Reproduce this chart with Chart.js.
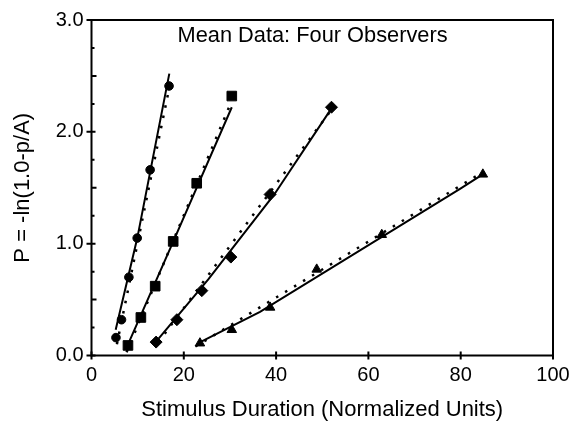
<!DOCTYPE html>
<html>
<head>
<meta charset="utf-8">
<script src="https://cdn.jsdelivr.net/npm/chart.js@4.4.1/dist/chart.umd.min.js"></script>
<style>
  body { margin: 0; background: #fff; }
  #wrap { width: 578px; height: 425px; }
</style>
</head>
<body>
<div id="wrap"><canvas id="chart"></canvas></div>
<script>
// observed points, one pair of arrays per observer group
const circleX = [5.3, 6.5, 8.1, 9.9, 12.7, 16.8];
const circleY = [0.16, 0.32, 0.70, 1.05, 1.66, 2.41];
const squareX = [7.9, 10.7, 13.8, 17.7, 22.8, 30.4];
const squareY = [0.09, 0.34, 0.62, 1.02, 1.54, 2.32];
const diamondX = [14.0, 18.5, 23.9, 30.2, 38.7, 52.0];
const diamondY = [0.12, 0.32, 0.58, 0.88, 1.44, 2.22];
const triangleX = [23.5, 30.4, 38.7, 48.8, 62.9, 84.8];
const triangleY = [0.11, 0.23, 0.43, 0.77, 1.08, 1.62];

// solid fitted curves
const solidX = [
  [5.24, 9.92, 16.86],
  [7.6, 17.73, 30.4],
  [13.9, 25.3, 39.6, 52.0],
  [23.14, 36.51, 79.85, 84.77]
];
const solidY = [
  [0.23, 1.05, 2.52],
  [0.07, 1.02, 2.22],
  [0.12, 0.68, 1.44, 2.21],
  [0.11, 0.39, 1.49, 1.62]
];
// dotted straight fits (end points)
const dottedX = [[5.5, 16.93], [7.6, 29.9], [14.5, 52.4], [22.5, 85.0]];
const dottedY = [[0.10, 2.41], [0.03, 2.23], [0.12, 2.22], [0.08, 1.645]];

const xTicks = [0, 20, 40, 60, 80, 100];
const yTicks = [0, 1, 2, 3];

const plotTitle = 'Mean Data: Four Observers';
const xTitle = 'Stimulus Duration (Normalized Units)';
const yTitle = 'P = -ln(1.0-p/A)';

Chart.defaults.font.family = '"Liberation Sans", Arial, sans-serif';
Chart.defaults.color = '#000';

function pts(xs, ys) {
  return xs.map((x, i) => ({ x: x, y: ys[i] }));
}

function markers(xs, ys, style, r) {
  return {
    data: pts(xs, ys),
    showLine: false,
    pointStyle: style,
    pointRadius: r,
    pointBackgroundColor: '#000',
    pointBorderColor: '#000',
    pointBorderWidth: 1
  };
}

function fit(xs, ys, dash) {
  return {
    data: pts(xs, ys),
    showLine: true,
    borderColor: '#000',
    borderWidth: dash ? 2.5 : 2,
    borderDash: dash || [],
    tension: 0,
    pointRadius: 0
  };
}

const datasets = [
  markers(circleX, circleY, 'circle', 4.3),
  markers(squareX, squareY, 'rect', 6.8),
  markers(diamondX, diamondY, 'rectRot', 6),
  markers(triangleX, triangleY, 'triangle', 5.5)
];
for (let i = 0; i < 4; i++) {
  datasets.push(fit(solidX[i], solidY[i]));
  datasets.push(fit(dottedX[i], dottedY[i], [2.5, 8]));
}

const frame = {
  id: 'frame',
  afterDraw(chart) {
    const { ctx, chartArea: a, scales } = chart;
    const x = scales.x, y = scales.y;
    ctx.save();
    ctx.strokeStyle = '#000';
    ctx.lineWidth = 2;
    ctx.strokeRect(a.left, a.top, a.right - a.left, a.bottom - a.top);
    ctx.beginPath();
    xTicks.forEach(v => {
      const px = x.getPixelForValue(v);
      ctx.moveTo(px, a.bottom - 4);
      ctx.lineTo(px, a.bottom + 4);
    });
    for (let i = 0; i <= 12; i++) {
      const v = i * 0.25;
      const py = y.getPixelForValue(v);
      if (i % 4 === 0) {
        ctx.moveTo(a.left - 5, py);
        ctx.lineTo(a.left + 4, py);
      } else {
        ctx.moveTo(a.left, py);
        ctx.lineTo(a.left + (i % 2 === 0 ? 5 : 3), py);
      }
    }
    ctx.stroke();
    ctx.fillStyle = '#000';
    ctx.font = '21.8px "Liberation Sans", Arial, sans-serif';
    ctx.textAlign = 'center';
    ctx.textBaseline = 'alphabetic';
    ctx.fillText(plotTitle, a.left + (a.right - a.left) * 0.479, a.top + 22);
    ctx.restore();
  }
};

new Chart(document.getElementById('chart'), {
  type: 'scatter',
  data: { datasets: datasets },
  options: {
    responsive: true,
    maintainAspectRatio: false,
    animation: false,
    layout: { padding: { top: 17, right: 25, left: 0, bottom: 0 } },
    plugins: {
      legend: { display: false },
      tooltip: { enabled: false }
    },
    scales: {
      x: {
        type: 'linear',
        min: 0,
        max: 100,
        afterBuildTicks: s => { s.ticks = xTicks.map(v => ({ value: v })); },
        afterFit: s => { s.height = 69.5; },
        grid: { display: false, drawTicks: false },
        border: { display: false },
        ticks: { font: { size: 20 }, padding: 8, maxRotation: 0 },
        title: { display: true, text: xTitle, font: { size: 22 }, padding: { top: 0, bottom: 2 } }
      },
      y: {
        min: 0,
        max: 3,
        afterBuildTicks: s => { s.ticks = yTicks.map(v => ({ value: v })); },
        afterFit: s => { s.width = 91.5; },
        grid: { display: false, drawTicks: false },
        border: { display: false },
        ticks: { font: { size: 20 }, padding: 8, callback: v => v.toFixed(1) },
        title: { display: true, text: yTitle, font: { size: 22 }, padding: { top: 10, bottom: 0 } }
      }
    }
  },
  plugins: [frame]
});
</script>
</body>
</html>
